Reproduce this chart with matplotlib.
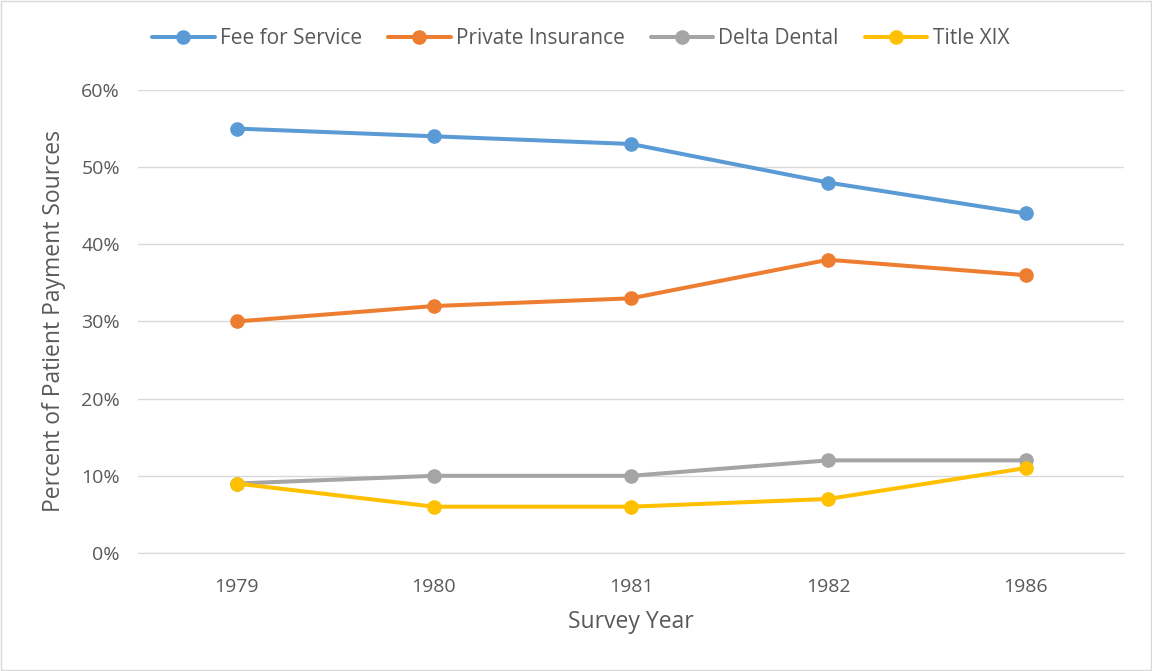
import numpy as np
import matplotlib.pyplot as plt
from matplotlib.ticker import PercentFormatter

plt.rcParams['font.family'] = ['Open Sans', 'DejaVu Sans']

years = ["1979", "1980", "1981", "1982", "1986"]
fee_for_service = [55, 54, 53, 48, 44]
private_insurance = [30, 32, 33, 38, 36]
delta_dental = [9, 10, 10, 12, 12]
title_xix = [9, 6, 6, 7, 11]

series = [
    ("Fee for Service", fee_for_service, "#5B9BD5"),
    ("Private Insurance", private_insurance, "#ED7D31"),
    ("Delta Dental", delta_dental, "#A5A5A5"),
    ("Title XIX", title_xix, "#FFC000"),
]

fig = plt.figure(figsize=(11.52, 6.71), dpi=100)
ax = fig.add_axes([0.1198, 0.1759, 0.856, 0.690])

x = np.arange(len(years))
for name, vals, col in series:
    ax.plot(x, vals, color=col, lw=2.9, marker="o", ms=9.5, label=name,
            solid_capstyle="round")

ax.set_xlim(-0.5, len(years) - 0.5)
ax.set_ylim(0, 60)
ax.set_yticks(range(0, 61, 10))
ax.yaxis.set_major_formatter(PercentFormatter(decimals=0))
ax.set_xticks(x)
ax.set_xticklabels(years)
ax.grid(axis="y", color="#D9D9D9", lw=1)
ax.set_axisbelow(True)
for s in ["top", "right", "left"]:
    ax.spines[s].set_visible(False)
ax.spines["bottom"].set_color("#D9D9D9")
ax.tick_params(length=0, labelsize=14, colors="#595959")
ax.tick_params(axis="x", pad=18)
ax.tick_params(axis="y", pad=13)

ax.set_xlabel("Survey Year", fontsize=16.5, color="#595959", labelpad=10)
ax.set_ylabel("Percent of Patient Payment Sources", fontsize=16.5, color="#595959", labelpad=11)

leg = fig.legend(loc="center", bbox_to_anchor=(0.504, 0.942), ncol=4, frameon=False,
                 fontsize=15, handlelength=3.0, columnspacing=1.25, handletextpad=0.25)
for t in leg.get_texts():
    t.set_color("#595959")

fig.patches.append(plt.Rectangle((0.001, 0.001), 0.998, 0.998, transform=fig.transFigure,
                                 fill=False, edgecolor="#D9D9D9", lw=1))

fig.savefig("out.png", dpi=100)
